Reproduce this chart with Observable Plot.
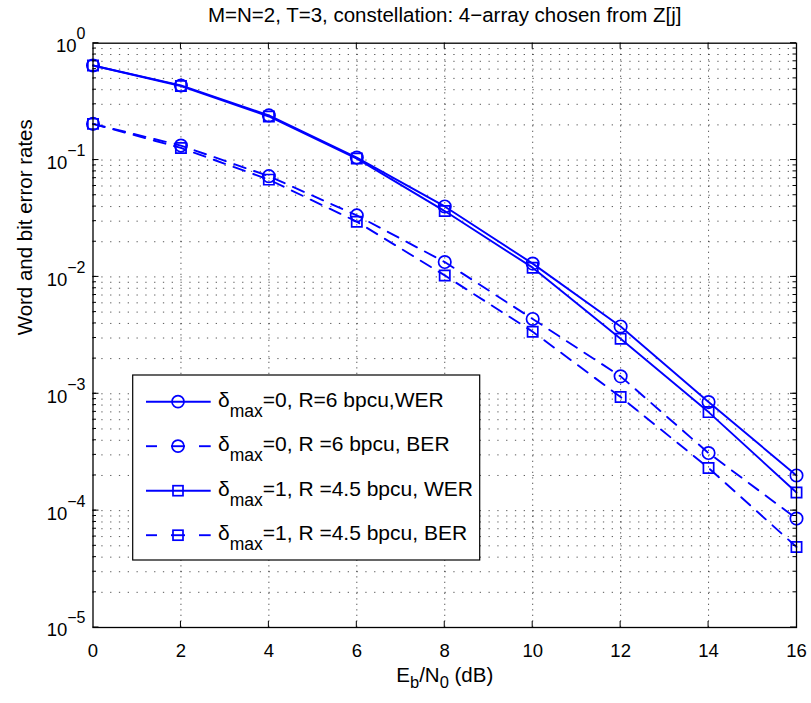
<!DOCTYPE html>
<html><head><meta charset="utf-8">
<script src="https://cdn.jsdelivr.net/npm/d3@7"></script>
<script src="https://cdn.jsdelivr.net/npm/@observablehq/plot@0.6"></script>
<style>
body{margin:0;background:#fff;}
#chart{position:relative;width:811px;height:703px;font-family:"Liberation Sans",Arial,sans-serif;}
</style></head><body><div id="chart"></div>
<script>
// ---- data ----
const snr = [0, 2, 4, 6, 8, 10, 12, 14, 16];
const werD0 = [0.644, 0.435, 0.241, 0.105, 0.0401, 0.0130, 0.00377, 0.000849, 0.000200];
const berD0 = [0.204, 0.133, 0.0728, 0.0336, 0.0134, 0.00437, 0.00141, 0.000311, 0.0000855];
const werD1 = [0.644, 0.430, 0.236, 0.103, 0.0366, 0.0120, 0.00296, 0.000697, 0.000143];
const berD1 = [0.204, 0.127, 0.068, 0.0297, 0.0103, 0.00340, 0.000937, 0.000232, 0.0000489];
const seriesKeys = ["d0wer", "d0ber", "d1wer", "d1ber"];
const seriesSub = ["max", "max", "max", "max"];
const seriesPost = ["=0, R=6 bpcu,WER", "=0, R =6 bpcu, BER", "=1, R =4.5 bpcu, WER", "=1, R =4.5 bpcu, BER"];
const xTicks = [0, 2, 4, 6, 8, 10, 12, 14, 16];
const yExps = [0, -1, -2, -3, -4, -5];
const titleText = "M=N=2, T=3, constellation: 4\u2212array chosen from Z[j]";
const yLabelText = "Word and bit error rates";
const xLabelText = "Eb/N0 (dB)";

// ---- build ----
const seriesVals = [werD0, berD0, werD1, berD1];
const seriesSymbol = ["circle", "circle", "square", "square"];
const seriesDashed = [false, true, false, true];
const rows = seriesKeys.flatMap((k, s) => snr.map((x, i) => ({x, y: seriesVals[s][i], key: k, sym: seriesSymbol[s], dashed: seriesDashed[s]})));
const majorY = yExps.map(e => Math.pow(10, e));
const minorY = [];
for (const e of yExps) if (e > -5) for (let m = 1; m <= 9; m++) minorY.push(m * Math.pow(10, e - 1));
const gridYVals = minorY.filter(v => v > 1e-5 * 1.0001 && v < 0.9999);

const blue = "#0000ff";
const font = "Liberation Sans, Arial, sans-serif";

const chart = Plot.plot({
  width: 811, height: 703,
  marginTop: 42.7, marginLeft: 92.5, marginRight: 15, marginBottom: 76,
  x: {domain: [0, 16]},
  y: {type: "log", domain: [1e-5, 1]},
  style: {fontFamily: font, fontSize: "18.5px", background: "white", color: "black", overflow: "visible"},
  marks: [
    Plot.gridY(gridYVals, {stroke: "#000", strokeOpacity: 0.65, strokeWidth: 1, strokeDasharray: "1.3,7.5"}),
    Plot.gridX(xTicks.slice(1, -1), {stroke: "#000", strokeOpacity: 0.65, strokeWidth: 1, strokeDasharray: "1.3,4.2"}),
    Plot.line(rows.filter(d => !d.dashed), {x: "x", y: "y", z: "key", stroke: blue, strokeWidth: 1.9}),
    Plot.line(rows.filter(d => d.dashed), {x: "x", y: "y", z: "key", stroke: blue, strokeWidth: 1.9, strokeDasharray: "12,9"}),
    Plot.dot(rows.filter(d => d.sym === "circle"), {x: "x", y: "y", symbol: "circle", r: 6.2, stroke: blue, strokeWidth: 1.7, fill: "none"}),
    Plot.dot(rows.filter(d => d.sym === "square"), {x: "x", y: "y", symbol: "square", r: 5.8, stroke: blue, strokeWidth: 1.7, fill: "none"}),
    Plot.axisX({ticks: xTicks, tickSize: 0, tickPadding: 16, tickFormat: d => String(d), label: null, fontSize: 18.5}),
    Plot.axisY({ticks: majorY, tickSize: 0, tickPadding: 7.5, dy: 3, tickFormat: d => "10^" + Math.round(Math.log10(d)), label: null, fontSize: 18.5}),
    Plot.frame({stroke: "#000", strokeWidth: 1.3}),
    Plot.text([titleText], {frameAnchor: "top", dy: -28, fontSize: 20.5, lineAnchor: "middle"}),
    Plot.text([xLabelText], {frameAnchor: "bottom", dy: 47.5, fontSize: 20.5, lineAnchor: "middle"}),
    Plot.text([yLabelText], {frameAnchor: "left", dx: -68, rotate: -90, fontSize: 20.5, lineAnchor: "middle"})
  ]
});
document.getElementById("chart").append(chart);

const svg = d3.select(chart);
const sx = chart.scale("x"), sy = chart.scale("y");

// y tick labels with superscript exponents
svg.selectAll('g[aria-label="y-axis tick label"] text').each(function() {
  const t = d3.select(this);
  const s = t.text();
  const exp = s.split("^")[1].replace("-", "\u2212");
  t.text(null);
  t.append("tspan").text("10");
  t.append("tspan").attr("dy", -13).attr("font-size", "16px").text(exp);
});

// x label with subscripts
svg.selectAll("text").filter(function() { return this.textContent === xLabelText; }).each(function() {
  const t = d3.select(this);
  t.text(null);
  t.append("tspan").text("E");
  t.append("tspan").attr("dy", 6).attr("font-size", "16.5px").text("b");
  t.append("tspan").attr("dy", -6).text("/N");
  t.append("tspan").attr("dy", 6).attr("font-size", "16.5px").text("0");
  t.append("tspan").attr("dy", -6).text(" (dB)");
});

// inward ticks drawn from Plot's scales
const yt = sy.apply(1), yb = sy.apply(1e-5), xl = sx.apply(0), xr = sx.apply(16);
const tg = svg.append("g").attr("stroke", "#000").attr("stroke-width", 1);
for (const v of xTicks.slice(1, -1)) {
  const px = sx.apply(v);
  tg.append("line").attr("x1", px).attr("x2", px).attr("y1", yb).attr("y2", yb - 6);
  tg.append("line").attr("x1", px).attr("x2", px).attr("y1", yt).attr("y2", yt + 6);
}
for (const v of majorY) {
  const py = sy.apply(v);
  tg.append("line").attr("x1", xl).attr("x2", xl + 6).attr("y1", py).attr("y2", py);
  tg.append("line").attr("x1", xr).attr("x2", xr - 6).attr("y1", py).attr("y2", py);
}
for (const v of gridYVals) {
  const py = sy.apply(v);
  tg.append("line").attr("x1", xl).attr("x2", xl + 3.5).attr("y1", py).attr("y2", py);
  tg.append("line").attr("x1", xr).attr("x2", xr - 3.5).attr("y1", py).attr("y2", py);
}

// legend
const lg = svg.append("g").attr("font-family", font).attr("text-anchor", "start");
lg.append("rect").attr("x", 132.7).attr("y", 375).attr("width", 347).attr("height", 185)
  .attr("fill", "white").attr("stroke", "#000").attr("stroke-width", 1.2);
seriesKeys.forEach((k, i) => {
  const cy = 401.7 + i * 44.5;
  const g = lg.append("g");
  const segs = seriesDashed[i] ? [[146, 157], [171, 185], [199, 210.7]] : [[146, 210.7]];
  for (const [a, b] of segs) {
    g.append("line").attr("x1", a).attr("x2", b).attr("y1", cy).attr("y2", cy).attr("stroke", blue).attr("stroke-width", 1.9);
  }
  if (seriesSymbol[i] === "circle") {
    g.append("circle").attr("cx", 178).attr("cy", cy).attr("r", 6).attr("fill", "none").attr("stroke", blue).attr("stroke-width", 1.7);
  } else {
    g.append("rect").attr("x", 178 - 5).attr("y", cy - 5).attr("width", 10).attr("height", 10).attr("fill", "none").attr("stroke", blue).attr("stroke-width", 1.7);
  }
  const t = g.append("text").attr("x", 218).attr("y", cy + 5.2).attr("font-size", "21px").attr("fill", "#000").attr("text-anchor", "start");
  t.append("tspan").text("\u03b4");
  t.append("tspan").attr("dy", 10).attr("font-size", "17.5px").text(seriesSub[i]);
  t.append("tspan").attr("dy", -10).text(seriesPost[i]);
});
</script>
</body></html>
